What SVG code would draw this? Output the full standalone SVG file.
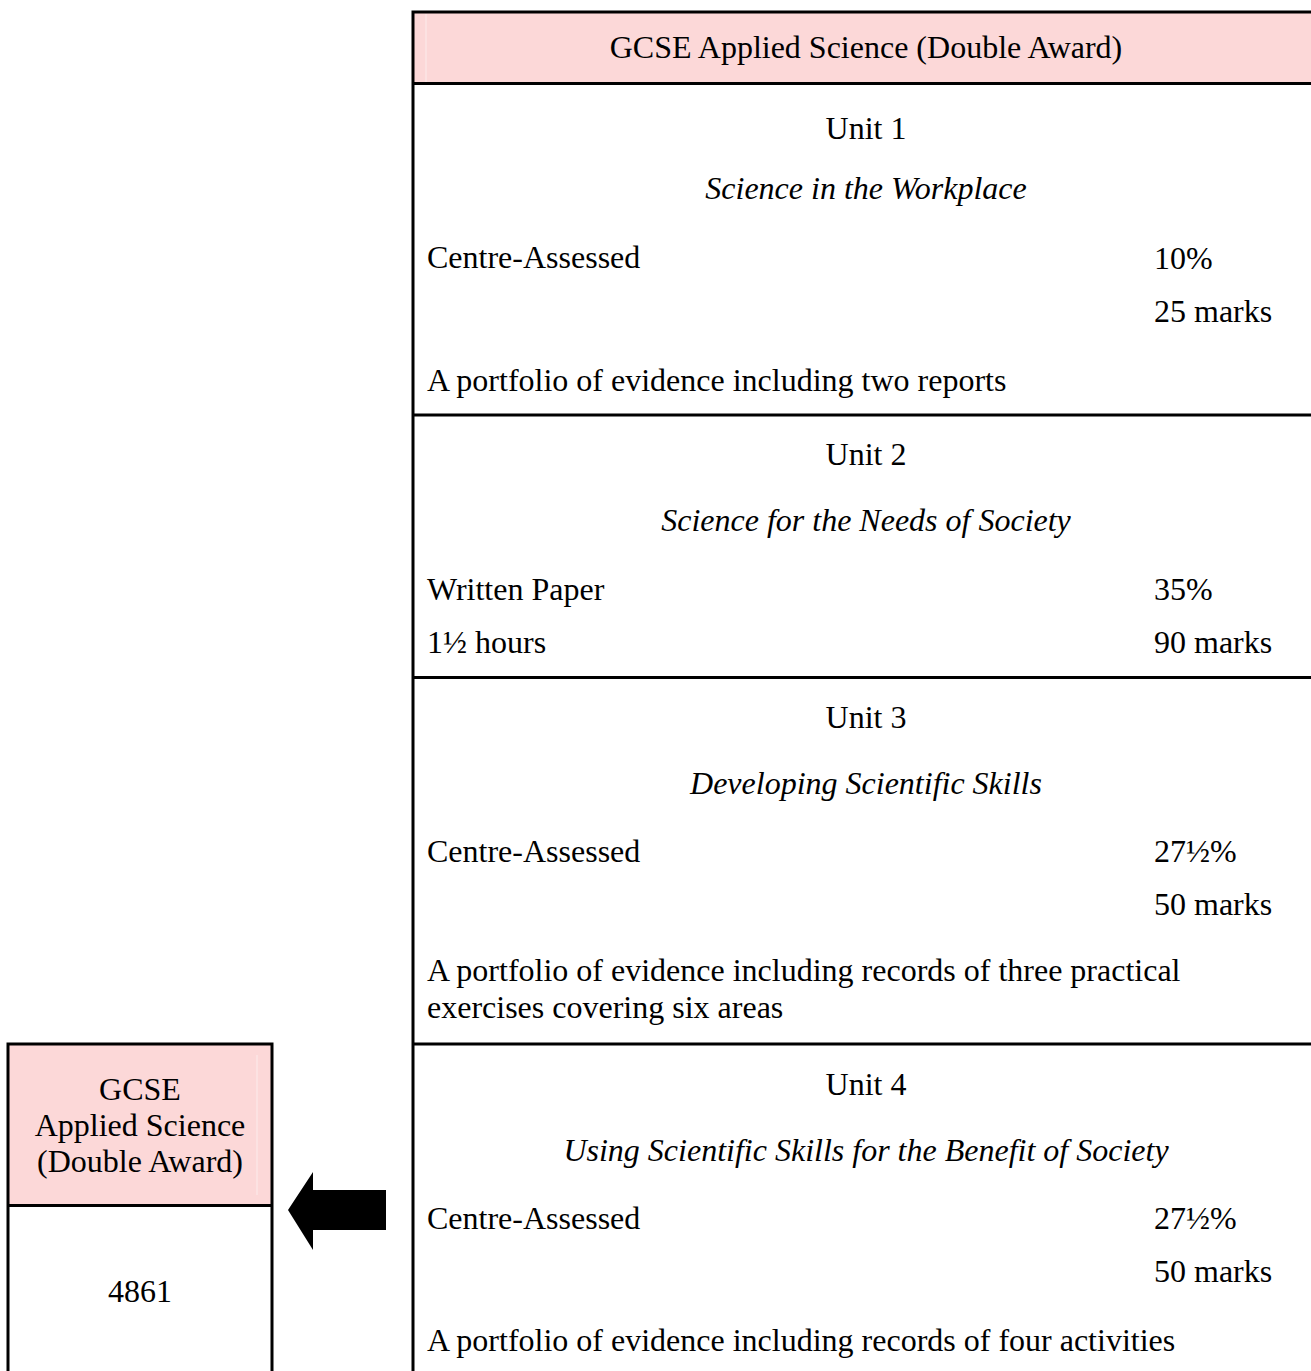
<svg xmlns="http://www.w3.org/2000/svg" width="1311" height="1371" viewBox="0 0 1311 1371">
<style>
text{font-family:"Liberation Serif","Times New Roman",serif;font-size:32px;fill:#000}
.c{text-anchor:middle}
.i{font-style:italic}
.ln{stroke:#000;stroke-width:3;fill:none}
.hd{fill:#FCD8D8}
.sh{stroke:#FDE6E6;stroke-width:1.5}
</style>
<rect width="1311" height="1371" fill="#fff"/>
<g id="units-table">
<rect class="hd" x="413" y="12" width="900" height="71.5"/>
<line class="sh" x1="426" y1="14" x2="426" y2="82"/>
<text class="c" x="866" y="58">GCSE Applied Science (Double Award)</text>
<path class="ln" d="M1311 12H413V1371M413 83.5H1311M413 415H1311M413 677.5H1311M413 1044H1311"/>
</g>
<g id="unit1">
<text class="c" x="866" y="139">Unit 1</text>
<text class="c i" x="866" y="199">Science in the Workplace</text>
<text x="427" y="268">Centre-Assessed</text>
<text x="1154" y="269">10%</text>
<text x="1154" y="322">25 marks</text>
<text x="427" y="391">A portfolio of evidence including two reports</text>
</g>
<g id="unit2">
<text class="c" x="866" y="465">Unit 2</text>
<text class="c i" x="866" y="531">Science for the Needs of Society</text>
<text x="427" y="600">Written Paper</text>
<text x="1154" y="600">35%</text>
<text x="427" y="653">1½ hours</text>
<text x="1154" y="653">90 marks</text>
</g>
<g id="unit3">
<text class="c" x="866" y="728">Unit 3</text>
<text class="c i" x="866" y="794">Developing Scientific Skills</text>
<text x="427" y="862">Centre-Assessed</text>
<text x="1154" y="862">27½%</text>
<text x="1154" y="915">50 marks</text>
<text x="427" y="981">A portfolio of evidence including records of three practical</text>
<text x="427" y="1018">exercises covering six areas</text>
</g>
<g id="unit4">
<text class="c" x="866" y="1095">Unit 4</text>
<text class="c i" x="866" y="1161">Using Scientific Skills for the Benefit of Society</text>
<text x="427" y="1229">Centre-Assessed</text>
<text x="1154" y="1229">27½%</text>
<text x="1154" y="1282">50 marks</text>
<text x="427" y="1351">A portfolio of evidence including records of four activities</text>
</g>
<g id="qualification">
<rect class="hd" x="8" y="1044" width="264" height="161.5"/>
<line class="sh" x1="257" y1="1055" x2="257" y2="1195"/>
<path class="ln" d="M8 1373V1044H272V1373M8 1205.5H272"/>
<text class="c" x="140" y="1100">GCSE</text>
<text class="c" x="140" y="1136">Applied Science</text>
<text class="c" x="140" y="1172">(Double Award)</text>
<text class="c" x="140" y="1302">4861</text>
</g>
<g id="connectors">
<polygon points="288,1210 313,1172 313,1190 386,1190 386,1230 313,1230 313,1250" fill="#000"/>
</g>
</svg>
